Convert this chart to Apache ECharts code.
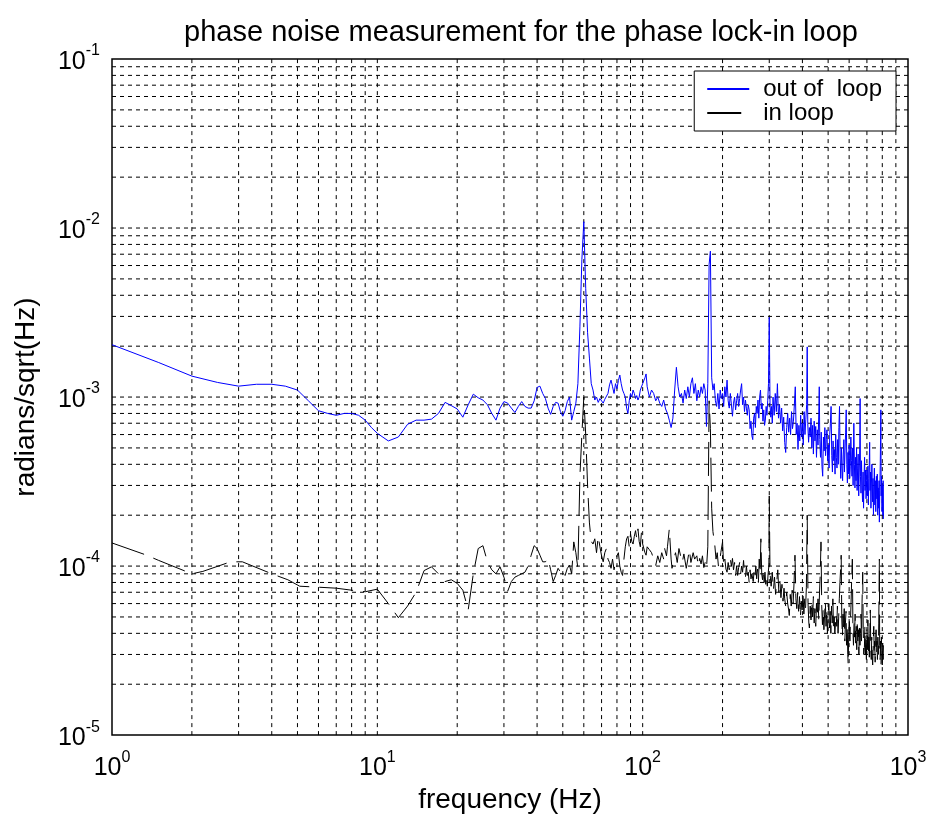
<!DOCTYPE html>
<html>
<head>
<meta charset="utf-8">
<script src="https://cdn.jsdelivr.net/npm/echarts@6/dist/echarts.min.js"></script>
<style>html,body{margin:0;padding:0;background:#fff;}#c{width:932px;height:819px;}</style>
</head>
<body>
<div id="c"></div>
<script>
// ---- data ----
var titleText = 'phase noise measurement for the phase lock-in loop';
var xName = 'frequency (Hz)';
var yName = 'radians/sqrt(Hz)';
var seriesNames = ['out of  loop', 'in loop'];
var xRange = [1, 1000];
var yRange = [1e-5, 1e-1];
var gridFreqs = [2,3,4,5,6,7,8,9,10,20,30,40,50,60,70,80,90,100,200,300,400,500,600,700,800,900];
var gridVals = [2e-5,3e-5,4e-5,5e-5,6e-5,7e-5,8e-5,9e-5,1e-4,2e-4,3e-4,4e-4,5e-4,6e-4,7e-4,8e-4,9e-4,1e-3,2e-3,3e-3,4e-3,5e-3,6e-3,7e-3,8e-3,9e-3,1e-2,2e-2,3e-2,4e-2,5e-2,6e-2,7e-2,8e-2,9e-2];

var outLoop = [
[1,2.04e-3],[1.5,1.6e-3],[2,1.33e-3],[2.5,1.22e-3],[3,1.16e-3],[3.5,1.19e-3],[4,1.19e-3],[4.5,1.16e-3],[5,1.1e-3],[5.5,9.5e-4],[6,8.3e-4],[6.5,8.0e-4],[7,7.8e-4],[7.5,8.0e-4],[8,8.0e-4],[8.5,7.8e-4],[9,7.3e-4],[9.5,6.6e-4],[10,6.1e-4],[11,5.5e-4],[12,5.8e-4],[13,6.9e-4],[14,7.3e-4],[15,7.3e-4],[16,7.4e-4],[17,8.0e-4],[18,9.3e-4],[19,8.9e-4],[20,8.5e-4],[21,7.6e-4],[22,9.0e-4],[23,1.04e-3],[24,9.9e-4],[25,9.6e-4],[26,9.0e-4],[27,8.0e-4],[28,7.3e-4],[29,8.6e-4],[30,9.4e-4],[31,9.2e-4],[32,8.6e-4],[33,8.1e-4],[34,8.8e-4],[35,9.4e-4],[36,8.8e-4],[37,8.6e-4],[38,8.6e-4],[39,9.5e-4],[40,1.14e-3],[41,1.16e-3],[42,1.05e-3],[43,9.8e-4],[44,8.6e-4],[45,7.9e-4],[46,8.8e-4],[47,9.3e-4],[48,9.2e-4],[49,8.2e-4],[50,7.7e-4],[51,8.3e-4],[52,9.4e-4],[53,1.0e-3],[54,7.3e-4],[55,8.2e-4],[56,9.2e-4],[57,1.2e-3],[58,2.6e-3],[59,6.5e-3],[60,1.09e-2],[61,4.4e-3],[62,2.4e-3],[63,1.7e-3],[64,1.2e-3],[65,1.1e-3],[66,9.6e-4],[67,1.0e-3],[68,9.3e-4],[69,9.8e-4],[70,1.0e-3],[71,9.2e-4],[72,9.7e-4],[73,9.6e-4],[74,1.05e-3],[75,1.18e-3],[76,1.26e-3],[77,1.15e-3],[78,1.05e-3],[79,1.2e-3],[80,1.12e-3],[81,1.25e-3],[82,1.35e-3],[83,1.2e-3],[84,1.1e-3],[85,1.05e-3],[86,1.0e-3],[87,8.6e-4],[88,8.0e-4],[89,9.5e-4],[90,1.05e-3],[91,1.0e-3],[92,1.1e-3],[93,1.05e-3],[94,9.8e-4],[95,1.02e-3],[96,9.6e-4],[97,1.0e-3],[98,1.1e-3],[100,1.2e-3],[102,1.3e-3],[103,1.37e-3],[104,1.15e-3],[106,1.0e-3],[108,1.1e-3],[110,1.05e-3],[112,9.5e-4],[114,1.0e-3],[116,9.2e-4],[118,8.8e-4],[120,9.6e-4],[122,8.5e-4],[124,8.0e-4],[126,7.3e-4],[128,6.6e-4],[130,7.5e-4],[132,1.1e-3],[134,1.5e-3],[136,1.15e-3],[138,1.0e-3],[140,1.05e-3],[142,9.2e-4],[144,1.1e-3],[146,9.8e-4],[148,1.15e-3],[150,1.0e-3],[152,1.2e-3],[154,1.3e-3],[156,1.05e-3],[158,1.2e-3],[160,9.5e-4],[162,1.1e-3],[164,1.0e-3],[166,1.15e-3],[168,1.05e-3],[170,1.2e-3],[172,1.1e-3],[174,6.7e-4],[176,1.2e-3],[178,6.1e-3],[180,7.3e-3],[182,1.3e-3],[184,1.1e-3],[186,1.2e-3],[188,9.5e-4],[190,8.8e-4],[192,1.05e-3],[194,8.5e-4],[196,1.1e-3],[198,9.8e-4],[200,1.05e-3],[202,8.8e-4],[204,1.15e-3],[206,1.0e-3],[208,1.26e-3],[210,9.5e-4],[212,8.6e-4],[214,1.05e-3],[216,9.0e-4],[218,7.7e-4],[220,9.2e-4],[222,1.0e-3],[224,8.4e-4],[226,9.5e-4],[228,1.05e-3],[230,8.8e-4],[232,9.8e-4],[234,1.1e-3],[236,1.2e-3],[238,9.0e-4],[240,1.0e-3],[242,8.2e-4],[244,9.6e-4],[246,8.6e-4],[248,7.8e-4],[250,9.0e-4],[252,8.4e-4],[254,6.5e-4],[256,7.2e-4],[258,5.9e-4],[260,5.6e-4],[262,7.5e-4],[264,8.0e-4],[266,6.6e-4],[268,8.8e-4],[270,8.0e-4],[272,9.6e-4],[274,7.5e-4],[276,1.0e-3],[278,1.1e-3],[280,8.5e-4],[282,9.2e-4],[284,7.2e-4],[286,8.4e-4],[288,6.8e-4],[290,7.3e-4],[292,8.8e-4],[294,7.8e-4],[296,9.5e-4],[298,1.2e-3],[300,2.96e-3],[302,9.0e-4],[304,7.6e-4],[306,8.8e-4],[308,7.0e-4],
[310,1.0e-3],[313,7.8e-4],[316,1.05e-3],[319,8.2e-4],[322,1.2e-3],[325,7.5e-4],[328,9.0e-4],[331,7.0e-4],[334,8.6e-4],[337,6.3e-4],[340,7.6e-4],[343,5.4e-4],[346,4.7e-4],[349,6.6e-4],[352,8.0e-4],[355,6.2e-4],[358,7.5e-4],[361,6.0e-4],[364,8.2e-4],[367,6.5e-4],[370,7.2e-4],[373,9.0e-4],[376,1.15e-3],[379,6.0e-4],[382,7.0e-4],[385,4.9e-4],[388,6.8e-4],[391,5.5e-4],[394,7.8e-4],[397,5.8e-4],[400,7.0e-4],[403,5.2e-4],[406,8.2e-4],[409,6.0e-4],[412,7.4e-4],[415,9.0e-4],[417,1.98e-3],[419,7.0e-4],[422,5.4e-4],[425,6.6e-4],[428,5.8e-4],[431,7.5e-4],[434,5.0e-4],[437,6.8e-4],[440,4.6e-4],[443,7.2e-4],[446,5.5e-4],[449,6.7e-4],[452,4.4e-4],[455,6.4e-4],[458,5.2e-4],[461,8.0e-4],[463,1.15e-3],[465,5.6e-4],[468,4.4e-4],[471,6.2e-4],[474,3.9e-4],[477,3.4e-4],[480,5.8e-4],[483,4.8e-4],[486,6.6e-4],[489,4.5e-4],[492,5.6e-4],[495,6.4e-4],[498,4.2e-4],[501,5.2e-4],[504,3.8e-4],[507,6.0e-4],[510,7.0e-4],[513,8.8e-4],[516,4.5e-4],[519,3.6e-4],[522,5.5e-4],[525,4.2e-4],[528,4.9e-4],[531,3.5e-4],[534,6.0e-4],[537,4.4e-4],[540,3.8e-4],[543,5.6e-4],[546,4.0e-4],[549,6.6e-4],[552,8.8e-4],[555,4.3e-4],[558,3.3e-4],[561,5.0e-4],[564,3.8e-4],[567,3.2e-4],[570,4.6e-4],[573,5.6e-4],[576,3.6e-4],[579,4.8e-4],[582,6.2e-4],[585,8.4e-4],[588,4.0e-4],[591,3.1e-4],[594,4.7e-4],[597,3.5e-4],[600,5.2e-4],[603,3.3e-4],[606,3.9e-4],[609,5.8e-4],[612,4.2e-4],[615,3.4e-4],[618,5.0e-4],[621,3.0e-4],[625,7.0e-4],[628,4.0e-4],[631,2.9e-4],[634,4.4e-4],[637,3.2e-4],[640,5.0e-4],[643,2.8e-4],[646,3.8e-4],[649,4.6e-4],[652,2.6e-4],[655,3.6e-4],[658,5.2e-4],[660,9.8e-4],[662,3.4e-4],[665,2.7e-4],[668,4.2e-4],[671,3.0e-4],[674,2.4e-4],[677,3.6e-4],[680,2.2e-4],[683,3.4e-4],[686,4.4e-4],[689,2.8e-4],[692,3.7e-4],[695,2.5e-4],[698,3.2e-4],[700,3.7e-4],[703,2.6e-4],[706,3.9e-4],[709,2.3e-4],[712,3.3e-4],[715,4.2e-4],[717,5.4e-4],[719,2.8e-4],[722,3.6e-4],[725,2.2e-4],[728,3.1e-4],[731,4.0e-4],[735,2.4e-4],[738,3.3e-4],[741,2.0e-4],[744,3.0e-4],[747,3.8e-4],[750,2.3e-4],[753,3.2e-4],[756,2.1e-4],[760,3.4e-4],[763,2.5e-4],[766,3.5e-4],[769,2.0e-4],[772,2.9e-4],[775,2.2e-4],[778,3.2e-4],[780,1.82e-4],[783,2.8e-4],[786,4.0e-4],[788,5.5e-4],[790,8.4e-4],[792,2.6e-4],[795,3.4e-4],[798,2.1e-4],[801,3.0e-4],[804,2.0e-4],[806,3.2e-4],[808,1.9e-4]
];

var inLoop = [
[1,1.37e-4],[1.33,1.17e-4],[1.5,1.08e-4],[2,9.0e-5],[2.2,9.3e-5],[2.8,1.06e-4],[3.1,1.06e-4],[4,9.0e-5],[4.6,8.3e-5],[5.1,7.6e-5],[6,7.5e-5],[7,7.4e-5],[8,7.2e-5],[9,7.05e-5],[10,7.3e-5],[11,6.0e-5],[12,4.95e-5],[13,5.8e-5],[14,7.0e-5],[15,9.4e-5],[16,9.9e-5],[17,9.0e-5],[18,8.1e-5],[19,8.3e-5],[20,7.9e-5],[21,7.2e-5],[22,5.5e-5],[23,9.0e-5],[24,1.27e-4],[25,1.32e-4],[26,1.06e-4],[27,9.5e-5],[28,9.0e-5],[29,9.9e-5],[30,8.6e-5],[31,7.1e-5],[32,8.1e-5],[33,8.6e-5],[34,8.8e-5],[35,9.0e-5],[36,9.2e-5],[37,1.0e-4],[38,1.16e-4],[39,1.32e-4],[40,1.27e-4],[41,1.16e-4],[42,1.06e-4],[43,1.06e-4],[44,1.11e-4],[45,9.5e-5],[46,8.1e-5],[47,8.8e-5],[48,9.7e-5],[49,9.2e-5],[50,9.5e-5],[51,8.8e-5],[52,9.7e-5],[53,1.01e-4],[54,9.0e-5],[55,1.39e-4],[56,1.2e-4],[57,9.7e-5],[58,3.4e-4],[59,6.0e-4],[60,1.0e-3],[61,6.0e-4],[62,3.0e-4],[63,1.8e-4],[64,1.4e-4],[65,1.35e-4],
[66,1.45e-4],[67,1.2e-4],[68,1.5e-4],[69,1.3e-4],[70,1.15e-4],[71,1.06e-4],[72,1.2e-4],[73,1.27e-4],[74,1.1e-4],[75,1.05e-4],[76,9.7e-5],[77,1.1e-4],[78,9.5e-5],[79,1.05e-4],[80,1.15e-4],[81,1.2e-4],[82,1.0e-4],[83,9.2e-5],[84,8.8e-5],[85,1.1e-4],[86,1.3e-4],[87,1.45e-4],[88,1.5e-4],[89,1.3e-4],[90,1.55e-4],[91,1.4e-4],[92,1.35e-4],[93,1.5e-4],[94,1.62e-4],[95,1.45e-4],[96,1.66e-4],[97,1.4e-4],[98,1.3e-4],[99,1.6e-4],[100,1.35e-4],[102,1.2e-4],[103,1.16e-4],[104,1.3e-4],[106,1.25e-4],[108,1.2e-4],[110,1.1e-4],[112,1.01e-4],[114,1.15e-4],[116,1.05e-4],[118,1.2e-4],[120,1.1e-4],[121,1.27e-4],[123,1.15e-4],[124,1.3e-4],[126,1.66e-4],[128,1.1e-4],[129,9.7e-5],[131,1.1e-4],[133,1.2e-4],[135,1.05e-4],[137,1.27e-4],[139,1.15e-4],[141,1.05e-4],[143,1.18e-4],[146,9.7e-5],[148,1.1e-4],[150,1.25e-4],[152,1.05e-4],[155,1.2e-4],[157,1.1e-4],[160,1.15e-4],[162,1.0e-4],[164,1.11e-4],[166,1.03e-4],[168,1.15e-4],[170,9.8e-5],[172,1.05e-4],[174,9.7e-5],[176,1.3e-4],[178,9.5e-4],[180,6.5e-4],[182,2.2e-4],[184,1.6e-4],[187,1.33e-4],[189,1.1e-4],[191,1.2e-4],[193,1.0e-4],[195,1.05e-4],[197,1.2e-4],[200,1.39e-4],[202,1.0e-4],[204,1.1e-4],[206,9.6e-5],[208,9.2e-5],[210,1.05e-4],[212,9.5e-5],[214,1.1e-4],[216,1.0e-4],[218,1.11e-4],[220,9.5e-5],[222,1.05e-4],[224,8.8e-5],[226,1.0e-4],[228,8.8e-5],[230,9.8e-5],[232,1.05e-4],[234,9.0e-5],[236,1.0e-4],[238,9.2e-5],[240,1.08e-4],[242,9.0e-5],[244,8.6e-5],[246,1.0e-4],[248,8.8e-5],[250,9.2e-5],[252,8.0e-5],[254,9.5e-5],[256,8.4e-5],[258,9.0e-5],[261,8.1e-5],[263,9.4e-5],[265,8.6e-5],[267,1.0e-4],[269,8.4e-5],[271,9.6e-5],[273,8.0e-5],[275,1.1e-4],[277,9.0e-5],[279,1.45e-4],[281,9.0e-5],[283,8.3e-5],[285,9.6e-5],[287,8.0e-5],[289,9.2e-5],[291,7.8e-5],[293,8.8e-5],[295,7.6e-5],[297,9.0e-5],[299,1.0e-4],[300,2.6e-4],[302,9.0e-5],
[305,7.6e-5],[308,9.2e-5],[311,7.2e-5],[314,8.6e-5],[317,6.8e-5],[320,8.0e-5],[323,9.5e-5],[326,7.0e-5],[329,8.2e-5],[332,6.5e-5],[335,7.8e-5],[338,6.2e-5],[341,7.4e-5],[343,6.4e-5],[346,5.8e-5],[349,7.0e-5],[352,6.0e-5],[355,5.5e-5],[357,5.1e-5],[360,6.8e-5],[363,5.8e-5],[366,7.2e-5],[369,6.0e-5],[372,8.0e-5],[375,1.16e-4],[378,6.4e-5],[381,5.6e-5],[384,7.0e-5],[387,5.4e-5],[390,6.6e-5],[393,5.0e-5],[396,6.2e-5],[399,5.5e-5],[402,7.0e-5],[405,5.2e-5],[408,6.4e-5],[411,5.6e-5],[414,7.5e-5],[417,2.0e-4],[420,6.0e-5],[423,4.6e-5],[425,4.3e-5],[428,5.8e-5],[431,4.8e-5],[434,6.2e-5],[437,5.0e-5],[440,6.6e-5],[443,4.6e-5],[446,5.6e-5],[449,4.4e-5],[452,6.0e-5],[455,5.0e-5],[458,6.4e-5],[461,4.8e-5],[464,7.0e-5],[467,9.0e-5],[470,1.39e-4],[473,5.8e-5],[476,4.5e-5],[479,5.6e-5],[482,4.2e-5],[485,5.2e-5],[488,6.2e-5],[491,4.4e-5],[494,5.6e-5],[497,4.0e-5],[500,5.0e-5],[503,6.0e-5],[506,4.3e-5],[509,5.4e-5],[512,4.0e-5],[515,5.8e-5],[518,4.6e-5],[521,6.4e-5],[524,4.2e-5],[527,5.0e-5],[530,4.0e-5],[533,3.9e-5],[536,5.2e-5],[539,4.4e-5],[542,5.8e-5],[545,4.0e-5],[548,5.0e-5],[551,6.4e-5],[554,8.0e-5],[557,9.5e-5],[560,1.16e-4],[563,4.8e-5],[566,3.8e-5],[569,5.2e-5],[572,4.2e-5],[575,5.6e-5],[578,3.6e-5],[581,4.6e-5],[584,5.4e-5],[587,3.4e-5],[590,4.4e-5],[593,3.0e-5],[595,2.6e-5],[598,4.0e-5],[601,5.0e-5],[604,3.6e-5],[607,4.8e-5],[610,6.0e-5],[613,8.0e-5],[617,1.1e-4],[620,4.2e-5],[623,3.4e-5],[626,4.6e-5],[629,3.8e-5],[632,5.2e-5],[635,3.5e-5],[638,4.4e-5],[641,3.2e-5],[644,4.8e-5],[647,3.6e-5],[650,4.2e-5],[653,3.0e-5],[656,4.6e-5],[659,3.4e-5],[662,4.0e-5],[665,5.2e-5],[668,3.6e-5],[671,6.0e-5],[675,9.2e-5],[678,4.2e-5],[681,3.0e-5],[685,3.3e-5],[688,4.4e-5],[691,3.0e-5],[694,3.8e-5],[697,2.8e-5],[700,4.2e-5],[703,3.2e-5],[706,4.8e-5],[709,3.0e-5],[712,3.8e-5],[715,2.7e-5],[718,4.0e-5],[721,5.5e-5],[724,3.2e-5],[727,2.8e-5],[730,3.8e-5],[733,2.9e-5],[736,2.6e-5],[740,3.6e-5],[743,4.4e-5],[746,3.0e-5],[749,3.6e-5],[752,2.7e-5],[755,3.4e-5],[758,4.2e-5],[761,3.0e-5],[764,3.6e-5],[767,2.8e-5],[770,3.8e-5],[773,3.0e-5],[776,4.6e-5],[778,7.0e-5],[780,1.1e-4],[782,3.4e-5],[785,2.8e-5],[788,3.6e-5],[791,2.6e-5],[794,3.8e-5],[797,3.0e-5],[800,2.6e-5],[803,3.5e-5],[806,2.8e-5],[808,3.4e-5]
];

// ---- chart ----
var FONT = "'Liberation Sans', Arial, Helvetica, sans-serif";
function powLabel(v) {
  var e = Math.round(Math.log(v) / Math.LN10);
  return '{b|10}{s|' + e + '}';
}
var richLabel = {
  b: { fontFamily: FONT, fontSize: 25, color: '#000', lineHeight: 32, verticalAlign: 'bottom' },
  s: { fontFamily: FONT, fontSize: 16, color: '#000', lineHeight: 32, verticalAlign: 'top' }
};
var gridLineStyle = { color: '#000', width: 1, type: [4, 4] };

function gridSeries(points) {
  return {
    type: 'line', data: points, z: 1, silent: true, symbol: 'none',
    lineStyle: gridLineStyle, animation: false, tooltip: { show: false }
  };
}
var gridLineSeries = gridFreqs.map(function (f) {
  return gridSeries([[f, yRange[0]], [f, yRange[1]]]);
}).concat(gridVals.map(function (v) {
  return gridSeries([[xRange[0], v], [xRange[1], v]]);
}));

var chart = echarts.init(document.getElementById('c'), null, { renderer: 'canvas' });
chart.setOption({
  animation: false,
  backgroundColor: '#fff',
  title: {
    text: titleText, left: 516, top: 13, textAlign: 'center',
    textStyle: { fontFamily: FONT, fontSize: 29, fontWeight: 'normal', color: '#000' }
  },
  grid: { left: 112, right: 24, top: 59, bottom: 78, show: true, borderColor: '#000', borderWidth: 1.5, backgroundColor: '#fff' },
  legend: {
    data: seriesNames, orient: 'vertical', right: 36, top: 71,
    backgroundColor: '#fff', borderColor: '#000', borderWidth: 1, borderRadius: 0,
    padding: [6, 14, 6, 12], itemGap: 0, itemWidth: 42, itemHeight: 2,
    itemStyle: { opacity: 0 },
    textStyle: { fontFamily: FONT, fontSize: 24, color: '#000', lineHeight: 21, padding: [0, 0, 0, 9] }
  },
  xAxis: {
    type: 'log', logBase: 10, min: xRange[0], max: xRange[1],
    name: xName, nameLocation: 'middle', nameGap: 46,
    nameTextStyle: { fontFamily: FONT, fontSize: 28, color: '#000' },
    axisLine: { show: false }, axisTick: { show: false }, splitLine: { show: false },
    axisLabel: { formatter: powLabel, rich: richLabel, margin: 14 }
  },
  yAxis: {
    type: 'log', logBase: 10, min: yRange[0], max: yRange[1],
    name: yName, nameLocation: 'middle', nameGap: 72, nameRotate: 90,
    nameTextStyle: { fontFamily: FONT, fontSize: 28, color: '#000' },
    axisLine: { show: false }, axisTick: { show: false }, splitLine: { show: false },
    axisLabel: { formatter: powLabel, rich: richLabel, margin: 12 }
  },
  series: gridLineSeries.concat([
    {
      name: seriesNames[0], type: 'line', data: outLoop, symbol: 'none', z: 3,
      lineStyle: { color: '#0000ff', width: 1 }, itemStyle: { color: '#0000ff' }
    },
    {
      name: seriesNames[1], type: 'line', data: inLoop, symbol: 'none', z: 3,
      lineStyle: { color: '#000', width: 1, type: [34, 10] }, itemStyle: { color: '#000' }
    }
  ])
});
</script>
</body>
</html>
